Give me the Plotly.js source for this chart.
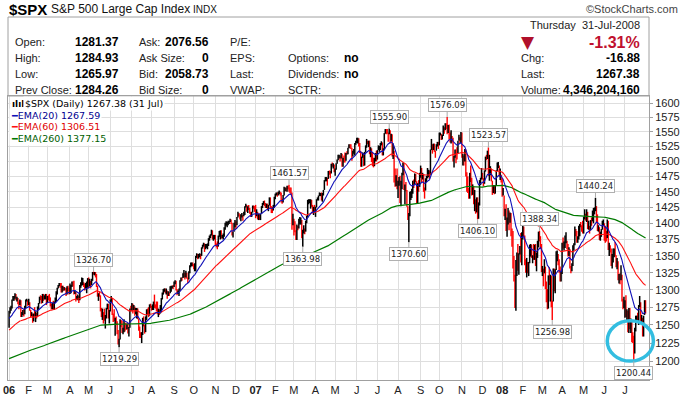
<!DOCTYPE html>
<html><head><meta charset="utf-8">
<script src="https://cdn.plot.ly/plotly-3.0.1.min.js"></script>
<style>html,body{margin:0;padding:0;background:#fff;}#chart{width:687px;height:395px;}</style>
</head><body><div id="chart"></div>
<script>
// ---------------- DATA ----------------
const prevClose2005 = 1248.29;
const close2006=[1269,1273,1273,1285,1290,1290,1294,1286,1288,1283,1278,1285,1261,1264,1267,1265,1274,1284,1285,1280,
1282,1271,1264,1265,1255,1266,1264,1267,1263,1276,1280,1289,1287,1283,1293,1288,1289,1294,1281,
1291,1289,1287,1278,1276,1278,1272,1281,1284,1297,1303,1305,1307,1305,1297,1305,1302,1303,1302,1293,1303,1300,1295,
1297,1306,1312,1309,1296,1297,1287,1288,1289,1285,1307,1310,1311,1311,1308,1302,1305,1310,1311,
1305,1313,1308,1312,1326,1325,1325,1323,1306,1291,1295,1292,1270,1262,1267,1262,1257,1259,1273,1280,1260,1270,
1286,1288,1265,1264,1256,1258,1252,1237,1224,1230,1256,1252,1240,1240,1252,1246,1245,1251,1239,1246,1273,1270,
1280,1271,1274,1265,1267,1272,1259,1242,1236,1234,1237,1260,1249,1240,1261,1269,1268,1263,1279,1277,
1271,1277,1280,1279,1276,1271,1266,1272,1267,1268,1286,1295,1297,1302,1298,1299,1293,1296,1295,1302,1304,1305,1304,
1311,1313,1300,1294,1299,1300,1313,1318,1316,1320,1321,1318,1325,1318,1315,1326,1336,1337,1339,1336,
1331,1334,1350,1353,1350,1351,1353,1350,1363,1366,1369,1364,1366,1367,1369,1377,1377,1382,1389,1377,1378,1378,
1368,1367,1364,1380,1383,1386,1378,1381,1384,1393,1397,1400,1401,1401,1403,1406,1401,1382,1387,1399,1401,
1397,1409,1415,1413,1407,1410,1413,1412,1413,1425,1427,1422,1426,1424,1418,1411,1417,1427,1425,1418];
const high2006=[1270,1275,1277,1286,1291,1291,1295,1294,1290,1288,1283,1286,1285,1268,1271,1272,1277,1286,1287,1285,
1287,1282,1271,1268,1266,1266,1275,1269,1267,1276,1281,1290,1292,1291,1294,1294,1292,1294,1294,
1291,1292,1294,1289,1280,1281,1284,1283,1289,1298,1303,1307,1310,1310,1310,1306,1306,1304,1303,1303,1305,1306,1303,
1309,1307,1312,1312,1313,1299,1297,1291,1293,1291,1307,1311,1318,1317,1311,1309,1310,1312,1317,
1318,1316,1313,1316,1326,1326.7,1326,1326,1323,1306,1295,1297,1292,1274,1273,1268,1273,1264,1274,1280,1280,1271,
1286,1291,1288,1266,1272,1260,1262,1255,1243,1231,1258,1257,1256,1246,1258,1253,1253,1251,1253,1247,1273,1277,
1281,1280,1278,1276,1274,1274,1273,1259,1248,1240,1240,1260,1262,1250,1262,1272,1273,1275,1279,1280,
1277,1279,1283,1293,1279,1283,1283,1273,1272,1278,1288,1296,1301,1302,1302,1302,1299,1298,1296,1305,1306,1306,1307,
1312,1314,1313,1301,1299,1302,1314,1318,1318,1324,1329,1325,1328,1325,1318,1327,1336,1340,1340,1340,
1338,1339,1350,1354,1353,1353,1354,1353,1363,1367,1370,1369,1368,1368,1369,1377,1381,1383,1390,1389,1382,1382,
1382,1369,1372,1381,1388,1389,1389,1382,1384,1394,1401,1403,1402,1404,1404,1407,1406,1401,1387,1401,1405,
1403,1410,1418,1416,1414,1414,1416,1413,1418,1427,1431,1429,1427,1429,1424,1418,1418,1428,1428,1427];
const low2006=[1246,1266,1270,1273,1284,1284,1287,1285,1283,1279,1272,1278,1261,1261,1264,1262,1265,1274,1283,1277,
1278,1270,1261,1262,1253,1255,1262,1254,1259,1262,1271,1280,1285,1280,1281,1284,1286,1286,1278,
1281,1285,1283,1276,1272,1272,1271,1271,1281,1283,1293,1302,1305,1303,1296,1296,1298,1299,1299,1291,1293,1298,1293,
1294,1295,1304,1305,1293,1294,1283,1286,1285,1281,1285,1303,1306,1307,1304,1299,1302,1295,1303,
1302,1305,1302,1307,1313,1322,1321,1318,1304,1290,1284,1290,1269,1261,1257,1252,1256,1245,1259,1272,1259,1252,
1269,1281,1264,1254,1255,1235,1250,1237,1223,1219.29,1230,1247,1239,1237,1240,1241,1243,1244,1238,1234,1246,1269,
1270,1266,1271,1263,1265,1259,1258,1242,1232,1232,1225,1236,1248,1238,1240,1257,1264,1261,1263,1274,
1270,1271,1271,1274,1273,1269,1265,1261,1264,1266,1268,1286,1293,1297,1295,1293,1287,1291,1291,1295,1297,1302,1301,
1304,1308,1299,1292,1294,1291,1299,1312,1313,1317,1318,1315,1318,1316,1310,1315,1324,1333,1335,1334,
1330,1327,1327,1347,1345,1346,1348,1345,1350,1361,1364,1356,1360,1362,1360,1365,1373,1377,1381,1375,1373,1375,
1366,1363,1360,1364,1379,1375,1376,1377,1375,1379,1390,1396,1394,1397,1399,1402,1399,1381,1378,1387,1394,
1391,1397,1409,1411,1406,1403,1409,1404,1411,1413,1425,1418,1416,1421,1415,1410,1410,1417,1423,1418];

const close2007=[1417,1418,1410,1413,1412,1415,1424,1431,1432,1431,1426,1431,1423,1428,1440,1424,1422,1421,1429,1438,
1446,1448,1447,1448,1450,1448,1438,1433,1444,1455,1457,1456,1460,1458,1456,1451,1449,1399,1407,
1403,1387,1374,1395,1392,1402,1403,1407,1378,1387,1392,1387,1402,1411,1435,1435,1436,1438,1429,1417,1423,1421,
1425,1438,1439,1444,1445,1448,1439,1448,1453,1468,1471,1473,1471,1484,1481,1480,1495,1494,1494,1482,
1486,1496,1502,1506,1509,1508,1513,1491,1506,1503,1501,1514,1513,1523,1525,1524,1522,1508,1516,1518,1530,1531,
1536,1539,1531,1517,1491,1508,1509,1493,1516,1523,1533,1531,1534,1513,1522,1503,1498,1493,1506,1506,1503,
1519,1525,1525,1530,1532,1510,1519,1548,1553,1550,1549,1546,1553,1534,1542,1511,1518,1483,1459,1474,1455,
1466,1472,1433,1468,1477,1497,1453,1454,1453,1427,1407,1411,1446,1446,1447,1464,1463,1479,1467,1432,1464,1458,1474,
1489,1472,1479,1454,1452,1471,1472,1484,1484,1477,1520,1529,1519,1526,1518,1517,1525,1531,1527,
1547,1547,1540,1543,1558,1553,1565,1562,1554,1562,1549,1539,1541,1540,1501,1506,1520,1516,1514,1535,1541,1531,1549,
1508,1510,1502,1520,1476,1475,1454,1439,1481,1471,1451,1459,1433,1440,1417,1441,1407,1428,1469,1470,1481,
1472,1463,1485,1507,1505,1516,1478,1487,1488,1468,1446,1455,1453,1460,1484,1496,1498,1476,1478,1468];
const high2007=[1429,1422,1418,1415,1415,1415,1427,1432,1435,1436,1432,1431,1431,1429,1441,1441,1427,1426,1429,1442,
1447,1449,1449,1450,1452,1450,1449,1439,1445,1458,1457,1457,1460,1460,1461.57,1457,1457,1449,1415,
1407,1403,1389,1398,1396,1407,1410,1409,1405,1390,1397,1392,1404,1412,1437,1438,1438,1438,1437,1429,1426,1429,
1426,1438,1441,1444,1449,1448,1449,1448,1453,1469,1474,1474,1473,1484,1485,1484,1496,1498,1497,1495,
1488,1497,1503,1511,1511,1510,1514,1513,1506,1510,1515,1514,1517,1523,1529,1529,1529,1523,1518,1521,1531,1535,
1540,1540,1539,1531,1517,1508,1515,1514,1516,1527,1538,1535,1535,1535,1524,1522,1514,1506,1506,1514,1518,
1519,1527,1526,1531,1534,1532,1522,1548,1555,1555,1555,1549,1555.9,1553,1547,1546,1530,1518,1488,1477,1488,
1468,1474,1476,1468,1481,1498,1497,1462,1466,1453,1427,1416,1450,1451,1455,1468,1470,1480,1479,1467,1464,1469,1481,
1493,1489,1481,1479,1457,1472,1476,1489,1486,1485,1520,1538,1529,1530,1530,1518,1529,1533,1533,
1549,1549,1547,1545,1561,1558,1565,1565,1576.09,1562,1563,1549,1553,1543,1540,1509,1520,1520,1524,1535,1545,1541,1550,
1549,1513,1510,1521,1520,1482,1475,1456,1481,1493,1473,1462,1459,1453,1438,1441,1441,1433,1469,1473,1489,
1481,1472,1485,1508,1511,1518,1523.57,1511,1492,1488,1468,1461,1461,1461,1485,1498,1499,1493,1488,1478];
const low2007=[1408,1411,1406,1405,1405,1405,1415,1424,1429,1427,1424,1424,1421,1419,1428,1423,1416,1416,1420,1424,
1438,1444,1442,1444,1446,1444,1433,1431,1433,1444,1451,1451,1450,1454,1450,1448,1445,1390,1397,
1381,1386,1374,1374,1389,1392,1398,1398,1377,1363.98,1384,1383,1387,1400,1409,1430,1432,1423,1426,1417,1413,1416,
1410,1425,1436,1436,1443,1443,1436,1434,1444,1453,1467,1467,1460,1471,1478,1472,1480,1491,1488,1482,
1476,1486,1496,1502,1505,1500,1505,1491,1491,1498,1498,1501,1511,1512,1522,1522,1521,1501,1508,1513,1510,1528,
1531,1530,1525,1514,1491,1491,1506,1492,1493,1515,1523,1529,1524,1512,1507,1499,1492,1490,1492,1500,1500,
1503,1519,1516,1519,1527,1510,1510,1519,1547,1546,1547,1533,1546,1530,1534,1508,1504,1465,1458,1459,1454,
1440,1460,1432,1427,1454,1477,1453,1430,1451,1426,1405,1370.6,1411,1437,1440,1447,1456,1462,1466,1432,1432,1450,1458,
1473,1465,1470,1450,1439,1452,1466,1472,1474,1471,1477,1519,1513,1519,1516,1506,1518,1525,1521,
1527,1544,1536,1537,1543,1547,1553,1555,1546,1548,1537,1532,1530,1532,1500,1490,1506,1497,1503,1514,1535,1530,1531,
1506,1493,1493,1500,1475,1450,1448,1439,1439,1466,1444,1445,1430,1419,1415,1417,1406.1,1407,1428,1461,1470,
1470,1459,1463,1483,1502,1504,1476,1468,1477,1467,1445,1448,1446,1447,1460,1484,1489,1475,1469,1465];

const close2008=[1447,1447,1412,1416,1390,1409,1420,1401,1416,1381,1373,1333,1325,1311,1339,1352,1331,1354,1362,1356,1379,
1395,1381,1337,1326,1337,1331,1339,1349,1367,1349,1350,1349,1360,1343,1353,1372,1381,1380,1368,1331,
1331,1327,1334,1304,1293,1273,1321,1309,1315,1288,1277,1331,1298,1330,1350,1353,1341,1326,1315,1323,
1370,1368,1369,1370,1373,1366,1354,1361,1333,1328,1334,1365,1366,1390,1388,1376,1380,1389,1398,1396,1391,1386,
1409,1414,1407,1418,1393,1398,1388,1404,1403,1409,1424,1425,1427,1413,1391,1394,1376,1385,1391,1398,1400,
1386,1378,1377,1404,1361,1362,1358,1335,1340,1360,1360,1351,1338,1343,1318,1318,1314,1322,1283,1278,1280,
1285,1262,1263,1252,1274,1245,1253,1239,1228,1215,1245,1260,1261,1260,1277,1282,1253,1258,1234,1263,1284,1267.38];
const high2008=[1472,1456,1444,1423,1430,1409,1424,1420,1417,1416,1392,1388,1350,1322,1344,1355,1368,1354,1365,1385,1386,
1396,1395,1381,1345,1347,1341,1341,1367,1368,1367,1351,1368,1367,1368,1355,1373,1387,1388.34,1380,1368,
1335,1331,1345,1334,1312,1301,1321,1333,1322,1321,1284,1331,1331,1330,1357,1358,1353,1345,1334,1328,
1370,1378,1372,1381,1386,1373,1368,1363,1360,1335,1339,1366,1369,1395,1391,1388,1380,1396,1399,1402,1397,1404,
1410,1422,1415,1422,1418,1404,1396,1405,1409,1420,1424,1425,1440.24,1427,1414,1397,1394,1387,1391,1404,1406,
1400,1396,1388,1406,1404,1370,1366,1361,1353,1361,1361,1371,1351,1347,1342,1323,1324,1336,1322,1287,1290,
1285,1292,1272,1270,1274,1274,1259,1254,1240,1235,1246,1263,1263,1267,1278,1291,1282,1264,1260,1263,1285,1284.93];
const low2008=[1442,1444,1411,1405,1388,1379,1398,1389,1401,1380,1364,1331,1312,1274,1270.05,1320,1328,1322,1352,1340,1336,
1375,1379,1336,1325,1318,1324,1320,1339,1349,1347,1339,1344,1344,1335,1327,1347,1363,1372,1361,1326,
1320,1305,1324,1301,1282,1272,1273,1307,1283,1275,1256.98,1283,1298,1295,1329,1342,1336,1325,1312,1312,
1323,1361,1358,1362,1369,1360,1349,1350,1331,1324,1327,1335,1358,1366,1380,1370,1370,1375,1380,1394,1387,1384,
1384,1406,1404,1402,1391,1390,1384,1389,1396,1403,1400,1414,1419,1401,1388,1387,1374,1373,1379,1390,1397,
1373,1370,1372,1377,1359,1350,1355,1335,1331,1340,1348,1349,1333,1330,1314,1309,1308,1314,1283,1272,1274,
1260,1261,1255,1240,1239,1244,1239,1226,1225,1200.44,1211,1241,1254,1256,1250,1275,1252,1251,1234,1234,1264,1265.97];

// trading days per month, Jan 2006 .. Jul 2008, and month tick labels
const monthDays=[20,19,23,19,22,22,20,23,20,22,21,20, 20,19,22,20,22,21,21,23,19,23,21,20, 21,20,20,22,21,21,22];
const monthLabels=['<b>06</b>','F','M','A','M','J','J','A','S','O','N','D',
 '<b>07</b>','F','M','A','M','J','J','A','S','O','N','D',
 '<b>08</b>','F','M','A','M','J','J'];
const priceTicks=[1200,1225,1250,1275,1300,1325,1350,1375,1400,1425,1450,1475,1500,1525,1550,1575,1600];
// EMA periods and the values they stand at just before the first bar (read from the left edge)
const emaPeriods=[20,60,260];
const emaSeeds=[1258,1242,1203.5];
// swing-point labels
const highMarks=[1326.70,1461.57,1555.90,1576.09,1523.57,1388.34,1440.24];
const lowMarksShown=[1219.29,1363.98,1370.60,1406.10,1256.98,1200.44];

// ---------------- BUILD ----------------
const closeAll=close2006.concat(close2007,close2008);
const highAll=high2006.concat(high2007,high2008);
const lowAll=low2006.concat(low2007,low2008);
const n=Math.min(closeAll.length,highAll.length,lowAll.length);
const upX=[],upY=[],dnX=[],dnY=[];
for(let i=0;i<n;i++){
  const prev=i?closeAll[i-1]:prevClose2005;
  if(closeAll[i]>=prev){upX.push(i,i,null);upY.push(lowAll[i],highAll[i],null);}
  else{dnX.push(i,i,null);dnY.push(lowAll[i],highAll[i],null);}
}
const idx=[...Array(n).keys()];
function ema(vals,period,seed){const k=2/(period+1);let e=seed;return vals.map(v=>(e=e+k*(v-e)));}
const emas=emaPeriods.map((p,j)=>ema(closeAll.slice(0,n),p,emaSeeds[j]));

const tickPos=[];let acc=0;for(const d of monthDays){tickPos.push(acc);acc+=d;}

// page geometry
const W=687,H=395,ML=8,MR=38,MT=96,MB=15;
const PW=W-ML-MR,PH=H-MT-MB;
const xRange=[-1.1,651.5];
const yRange=[Math.log10(1175.6),Math.log10(1613.4)];
const px=x=>(x-ML)/PW, py=y=>(H-MB-y)/PH;
const dX=v=>(v-xRange[0])/(xRange[1]-xRange[0]);
const dY=v=>(Math.log10(v)-yRange[0])/(yRange[1]-yRange[0]);

const SANS='Liberation Sans, Arial, sans-serif';
const VER='DejaVu Sans, Verdana, sans-serif';

const traces=[
 {x:dnX,y:dnY,type:'scatter',mode:'lines',line:{color:'#ff0000',width:1.4},hoverinfo:'skip'},
 {x:upX,y:upY,type:'scatter',mode:'lines',line:{color:'#000000',width:1.5},hoverinfo:'skip'},
 {x:idx,y:emas[2],type:'scatter',mode:'lines',line:{color:'#007a00',width:1.2},hoverinfo:'skip'},
 {x:idx,y:emas[1],type:'scatter',mode:'lines',line:{color:'#ff1010',width:1.1},hoverinfo:'skip'},
 {x:idx,y:emas[0],type:'scatter',mode:'lines',line:{color:'#1010b8',width:1.1},hoverinfo:'skip'}
];

const ann=[];
function T(text,x,y,opt){ann.push(Object.assign({text:text,xref:'paper',yref:'paper',x:px(x),y:py(y),showarrow:false,xanchor:'left',yanchor:'middle',
 font:{family:SANS,size:11,color:'#222'}},opt||{}));}
// title strip
T('<b>$SPX</b>',7,9,{font:{family:SANS,size:15,color:'#000'}});
T('S&P 500 Large Cap Index',49,9,{font:{family:SANS,size:12,color:'#111'}});
T('INDX',191,9,{font:{family:SANS,size:10,color:'#111'}});
T('©StockCharts.com',680,9,{xanchor:'right',font:{family:SANS,size:11,color:'#444'}});
T('Thursday  31-Jul-2008',642,25,{xanchor:'right',font:{family:SANS,size:11,color:'#222'}});
// info table
const rowsY=[42,58,74,90];
const c1=['Open:','High:','Low:','Prev Close:'], v1=['1281.37','1284.93','1265.97','1284.26'];
const c2=['Ask:','Ask Size:','Bid:','Bid Size:'], v2=['2076.56','0','2058.73','0'];
const c3=['P/E:','EPS:','Last:','VWAP:'];
const c4=['','Options:','Dividends:','SCTR:'], v4=['','no','no',''];
const c5=['','Chg:','Last:','Volume:'], v5=['','-16.88','1267.38','4,346,204,160'];
rowsY.forEach((y,r)=>{
  T(c1[r],13,y); T('<b>'+v1[r]+'</b>',121,y,{xanchor:'right',font:{family:SANS,size:12,color:'#000'}});
  T(c2[r],137,y); T('<b>'+v2[r]+'</b>',211,y,{xanchor:'right',font:{family:SANS,size:12,color:'#000'}});
  T(c3[r],228,y);
  if(c4[r])T(c4[r],286,y);
  if(v4[r])T('<b>'+v4[r]+'</b>',342,y,{font:{family:SANS,size:12,color:'#000'}});
  if(c5[r])T(c5[r],519,y);
  if(v5[r])T('<b>'+v5[r]+'</b>',642,y,{xanchor:'right',font:{family:SANS,size:12,color:'#000'}});
});
T('▼',519,42,{font:{family:'DejaVu Sans',size:17,color:'#b0102a'}});
T('<b>-1.31%</b>',642,42,{xanchor:'right',font:{family:SANS,size:16,color:'#c0102e'}});
// legend inside plot
T('<b>ılıl</b>',10,104,{font:{family:VER,size:9,color:'#000'},bgcolor:'#fff'});
T('$SPX (Daily) 1267.38 (31 Jul)',23,104,{font:{family:VER,size:9.5,color:'#000'},bgcolor:'#fff'});
T('<span style="color:#1010b8">━</span>EMA(20) 1267.59',9,115,{font:{family:VER,size:9.5,color:'#000090'},bgcolor:'#fff'});
T('<span style="color:#ff1010">━</span>EMA(60) 1306.51',9,127,{font:{family:VER,size:9.5,color:'#e00000'},bgcolor:'#fff'});
T('<span style="color:#007a00">━</span>EMA(260) 1377.15',9,138,{font:{family:VER,size:9.5,color:'#006000'},bgcolor:'#fff'});

// swing labels
function findIdx(arr,v){for(let i=0;i<n;i++){if(Math.abs(arr[i]-v)<0.005)return i;}return -1;}
const boxStyle={showarrow:true,arrowhead:0,arrowwidth:1,arrowcolor:'#aaaaaa',standoff:0,ax:0,
 bgcolor:'#ffffff',bordercolor:'#b0b0b0',borderwidth:1,borderpad:1,font:{family:VER,size:8.5,color:'#222'}};
highMarks.forEach(v=>{const i=findIdx(highAll,v);if(i<0)return;
 ann.push(Object.assign({},boxStyle,{x:i,y:Math.log10(v),xref:'x',yref:'y',text:v.toFixed(2),ay:-12}));});
lowMarksShown.forEach(v=>{const i=findIdx(lowAll,v);if(i<0)return;
 ann.push(Object.assign({},boxStyle,{x:i,y:Math.log10(v),xref:'x',yref:'y',text:v.toFixed(2),ay:12}));});

// shapes: header frame + circle around July 2008 lows
const lowIdx=findIdx(lowAll,1200.44);
const shapes=[
 {type:'rect',xref:'paper',yref:'paper',x0:px(8),x1:px(649),y0:py(96),y1:py(17),line:{color:'#a0a0a0',width:1},fillcolor:'rgba(0,0,0,0)'},
 {type:'circle',xref:'paper',yref:'paper',x0:dX(lowIdx-27),x1:dX(lowIdx+20),y0:dY(1200.6),y1:dY(1256),line:{color:'#33bde0',width:3.5},fillcolor:'rgba(0,0,0,0)'}
];

const layout={
 width:W,height:H,margin:{l:ML,r:MR,t:MT,b:MB},paper_bgcolor:'#fff',plot_bgcolor:'#fff',showlegend:false,
 xaxis:{range:xRange,tickmode:'array',tickvals:tickPos,ticktext:monthLabels,showgrid:true,gridcolor:'#dedede',gridwidth:1,
   zeroline:false,showline:true,mirror:true,linecolor:'#a0a0a0',linewidth:1,ticks:'',tickfont:{family:SANS,size:11,color:'#222'},fixedrange:true},
 yaxis:{type:'log',range:yRange,side:'right',tickmode:'array',tickvals:priceTicks,ticktext:priceTicks.map(String),showgrid:true,gridcolor:'#dedede',
   zeroline:false,showline:true,mirror:true,linecolor:'#a0a0a0',linewidth:1,ticks:'outside',ticklen:3,tickcolor:'#a0a0a0',
   tickfont:{family:SANS,size:11,color:'#222'},fixedrange:true},
 annotations:ann,shapes:shapes
};
Plotly.newPlot('chart',traces,layout,{displayModeBar:false,staticPlot:true});
</script></body></html>
